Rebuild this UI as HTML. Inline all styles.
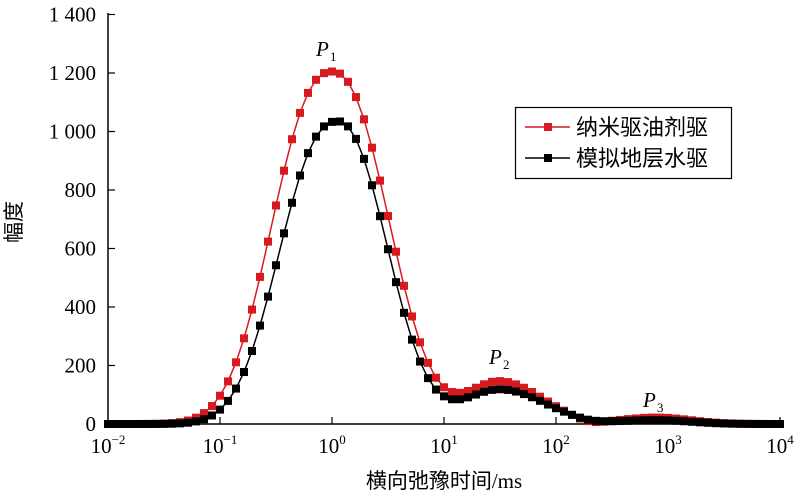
<!DOCTYPE html>
<html><head><meta charset="utf-8"><style>
body{margin:0;background:#fff}
svg{display:block}
text{font-family:"Liberation Serif","Noto Serif CJK SC",serif;fill:#000}
.cj{font-family:"Liberation Serif","Noto Sans CJK SC",sans-serif}
</style></head><body>
<svg id="s" width="800" height="497" viewBox="0 0 800 497">
<g stroke="#000" stroke-width="1.5" fill="none">
<line x1="108" y1="13" x2="108" y2="424"/>
<line x1="108" y1="424" x2="781" y2="424"/>
</g>
<g id="ticks" stroke="#000" stroke-width="1.2"></g>
<g font-size="21" text-anchor="end" id="yl"></g>
<g font-size="21" text-anchor="middle" id="xl"></g>
<text x="21" y="222" font-size="21" class="cj" transform="rotate(-90 21 222)" text-anchor="middle">幅度</text>
<text x="444" y="488" font-size="21" class="cj" text-anchor="middle">横向弛豫时间/ms</text>
<g id="series"></g>
<text x="316" y="56" font-size="21" font-style="italic">P</text><text x="330" y="61" font-size="13">1</text>
<text x="489" y="364" font-size="21" font-style="italic">P</text><text x="503" y="369" font-size="13">2</text>
<text x="643" y="407" font-size="21" font-style="italic">P</text><text x="657" y="412" font-size="13">3</text>
<rect x="515.5" y="107.5" width="216" height="71" fill="#fff" stroke="#000" stroke-width="1.2"/>
<line x1="525" y1="127" x2="570" y2="127" stroke="#d71920" stroke-width="1.5"/>
<rect x="544" y="123" width="8" height="8" fill="#d71920"/>
<line x1="525" y1="158" x2="570" y2="158" stroke="#000" stroke-width="1.5"/>
<rect x="544" y="154" width="8" height="8" fill="#000"/>
<text x="576" y="135" font-size="22" class="cj">纳米驱油剂驱</text>
<text x="576" y="166" font-size="22" class="cj">模拟地层水驱</text>
</svg>
<script>
const NS="http://www.w3.org/2000/svg";
function el(t,a,p){const e=document.createElementNS(NS,t);for(const k in a)e.setAttribute(k,a[k]);p.appendChild(e);return e;}
const X=l=>332+l*112, Y=v=>424-v*0.2925;
const tk=document.getElementById('ticks'),yl=document.getElementById('yl'),xl=document.getElementById('xl');
const yt=["0","200","400","600","800","1 000","1 200","1 400"];
for(let i=0;i<8;i++){const y=Y(i*200);if(i>0)el('line',{x1:108,y1:y,x2:115,y2:y},tk);
 const t=el('text',{x:96,y:y+7},yl);t.textContent=yt[i];}
const ex=["−2","−1","0","1","2","3","4"];
for(let i=0;i<7;i++){const x=X(i-2);if(i>0)el('line',{x1:x,y1:424,x2:x,y2:417},tk);
 const t=el('text',{x:x,y:453},xl);t.innerHTML='10<tspan font-size="13" dy="-9">'+ex[i]+'</tspan>';}
function g(l,m,s){return Math.exp(-(l-m)*(l-m)/(2*s*s));}
function g2(l,m,sl,sr){return g(l,m,l<m?sl:sr);}
function h(l,m,a,b,pl,pr){const d=l-m;return d<0?Math.exp(-Math.pow(-d/a,pl)):Math.exp(-Math.pow(d/b,pr));}
function red(l){return 1205*h(l,0,0.68,0.66,2.4,2.3)+145*g2(l,1.5,0.3,0.38)+22*g(l,2.9,0.3)-10*g(l,2.3,0.12);}
function blk(l){return 1035*h(l,0.05,0.66,0.59,2.4,2.2)+118*g2(l,1.5,0.32,0.4)+13*g(l,2.9,0.3)-4*g(l,2.3,0.12);}
const S=document.getElementById('series');
[[red,"#d71920"],[blk,"#000"]].forEach(([f,c])=>{
 let pts=[],N=85;
 for(let i=0;i<N;i++){const l=-2+6*i/(N-1);pts.push([X(l),Y(Math.max(f(l),-8))]);}
 el('polyline',{points:pts.map(p=>p.join(',')).join(' '),fill:'none',stroke:c,'stroke-width':1.5},S);
 pts.forEach(p=>el('rect',{x:p[0]-4,y:p[1]-4,width:8,height:8,fill:c},S));
});
</script>
</body></html>
